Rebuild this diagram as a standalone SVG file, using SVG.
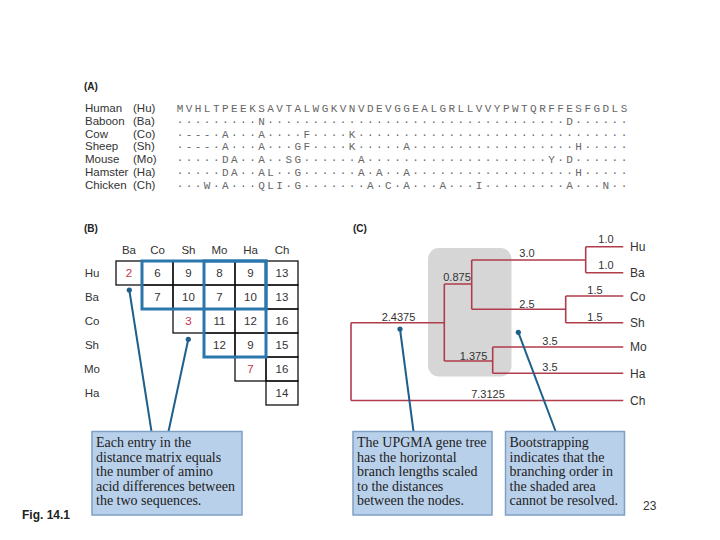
<svg xmlns="http://www.w3.org/2000/svg" width="720" height="540" viewBox="0 0 720 540">
<style>
.hd{font-family:"Liberation Sans",Arial,sans-serif;font-weight:bold;font-size:10px;fill:#222}
.nm{font-family:"Liberation Sans",Arial,sans-serif;font-size:11.5px;fill:#333}
.sq{font-family:"Liberation Mono","Courier New",monospace;font-size:11px;fill:#666;letter-spacing:2.46px}
.mx{font-family:"Liberation Sans",Arial,sans-serif;font-size:11.5px;fill:#333;text-anchor:middle}
.red{fill:#c4324e}
.cell{fill:none;stroke:#111;stroke-width:1.3}
.blue{fill:none;stroke:#2b77ad;stroke-width:3}
.br{fill:none;stroke:#b03c4c;stroke-width:1.6}
.bl{font-family:"Liberation Sans",Arial,sans-serif;font-size:11px;fill:#333;text-anchor:middle}
.lf{font-family:"Liberation Sans",Arial,sans-serif;font-size:12px;fill:#333}
.ptr{stroke:#1f5f8b;stroke-width:2;fill:none}
.dot{fill:#1f5f8b}
.box{fill:#b9d0ea;stroke:#7f9fc6;stroke-width:1.5}
.bt{font-family:"Liberation Serif","Times New Roman",serif;font-size:14px;fill:#222}
.pg{font-family:"Liberation Sans",Arial,sans-serif;font-size:12px;fill:#333}
</style>
<rect width="720" height="540" fill="#fff"/>

<g id="panelA">
<text class="hd" x="84" y="90">(A)</text>
<g class="nm">
<text x="85" y="112">Human</text><text x="133" y="112">(Hu)</text>
<text x="85" y="124.8">Baboon</text><text x="133" y="124.8">(Ba)</text>
<text x="85" y="137.6">Cow</text><text x="133" y="137.6">(Co)</text>
<text x="85" y="150.4">Sheep</text><text x="133" y="150.4">(Sh)</text>
<text x="85" y="163.2">Mouse</text><text x="133" y="163.2">(Mo)</text>
<text x="85" y="176">Hamster</text><text x="133" y="176">(Ha)</text>
<text x="85" y="188.8">Chicken</text><text x="133" y="188.8">(Ch)</text>
</g>
<g class="sq">
<text x="176.7" y="112">MVHLTPEEKSAVTALWGKVNVDEVGGEALGRLLVVYPWTQRFFESFGDLS</text>
<text x="176.7" y="124.8">·········N·································D······</text>
<text x="176.7" y="137.6">·---·A···A····F····K······························</text>
<text x="176.7" y="150.4">·---·A···A···GF····K·····A··················H·····</text>
<text x="176.7" y="163.2">·····DA··A··SG······A····················Y·D······</text>
<text x="176.7" y="176">·····DA··AL··G······A·A··A··················H·····</text>
<text x="176.7" y="188.8">···W·A···QLI·G·······A·C·A···A···I·········A···N··</text>
</g>
</g>

<g id="panelB">
<text class="hd" x="84" y="232">(B)</text>
<g class="mx">
<text x="129" y="254">Ba</text><text x="157.5" y="254">Co</text><text x="188.5" y="254">Sh</text><text x="219.5" y="254">Mo</text><text x="250.5" y="254">Ha</text><text x="282" y="254">Ch</text>
<text x="92" y="277">Hu</text><text x="92" y="301">Ba</text><text x="92" y="325">Co</text><text x="92" y="349">Sh</text><text x="92" y="373">Mo</text><text x="92" y="397">Ha</text>
</g>
<g id="cells">
<rect class="cell" x="116" y="261" width="26" height="24"/>
<rect class="cell" x="142" y="261" width="31" height="24"/>
<rect class="cell" x="173" y="261" width="31" height="24"/>
<rect class="cell" x="204" y="261" width="31" height="24"/>
<rect class="cell" x="235" y="261" width="31" height="24"/>
<rect class="cell" x="266" y="261" width="32" height="24"/>
<rect class="cell" x="142" y="285" width="31" height="24"/>
<rect class="cell" x="173" y="285" width="31" height="24"/>
<rect class="cell" x="204" y="285" width="31" height="24"/>
<rect class="cell" x="235" y="285" width="31" height="24"/>
<rect class="cell" x="266" y="285" width="32" height="24"/>
<rect class="cell" x="173" y="309" width="31" height="24"/>
<rect class="cell" x="204" y="309" width="31" height="24"/>
<rect class="cell" x="235" y="309" width="31" height="24"/>
<rect class="cell" x="266" y="309" width="32" height="24"/>
<rect class="cell" x="204" y="333" width="31" height="24"/>
<rect class="cell" x="235" y="333" width="31" height="24"/>
<rect class="cell" x="266" y="333" width="32" height="24"/>
<rect class="cell" x="235" y="357" width="31" height="24"/>
<rect class="cell" x="266" y="357" width="32" height="24"/>
<rect class="cell" x="266" y="381" width="32" height="24"/>
</g>
<rect class="blue" x="142" y="261" width="124" height="48"/>
<rect class="blue" x="204" y="261" width="62" height="96"/>
<g class="mx">
<text class="red" x="129" y="277">2</text><text x="157.5" y="277">6</text><text x="188.5" y="277">9</text><text x="219.5" y="277">8</text><text x="250.5" y="277">9</text><text x="282" y="277">13</text>
<text x="157.5" y="301">7</text><text x="188.5" y="301">10</text><text x="219.5" y="301">7</text><text x="250.5" y="301">10</text><text x="282" y="301">13</text>
<text class="red" x="188.5" y="325">3</text><text x="219.5" y="325">11</text><text x="250.5" y="325">12</text><text x="282" y="325">16</text>
<text x="219.5" y="349">12</text><text x="250.5" y="349">9</text><text x="282" y="349">15</text>
<text class="red" x="250.5" y="373">7</text><text x="282" y="373">16</text>
<text x="282" y="397">14</text>
</g>
</g>

<g id="panelC">
<text class="hd" x="353" y="232">(C)</text>
<rect id="shade" x="428" y="248" width="83.5" height="128.5" rx="11" fill="#d6d6d6"/>
<g id="tree" class="br">
<path d="M585.7 246.7H623.3M585.7 272.7H623.3M585.7 246.7V272.7"/>
<path d="M565.7 296H623.3M565.7 322.7H623.3M565.7 296V322.7"/>
<path d="M471.7 260H585.7M471.7 309.3H565.7M471.7 260V309.3"/>
<path d="M492.7 347H623.3M492.7 373.3H623.3M492.7 347V373.3"/>
<path d="M444.3 284H471.7M444.3 361H492.7M444.3 284V361"/>
<path d="M351 322.7H444.3M351 400.5H623.3M351 322.7V400.5"/>
</g>
<g class="bl">
<text x="606" y="243">1.0</text>
<text x="606" y="269">1.0</text>
<text x="595" y="294">1.5</text>
<text x="595" y="320.5">1.5</text>
<text x="527" y="256.5">3.0</text>
<text x="527" y="307.5">2.5</text>
<text x="457" y="281">0.875</text>
<text x="550" y="345">3.5</text>
<text x="550" y="370.5">3.5</text>
<text x="473.5" y="359.5">1.375</text>
<text x="398.5" y="320.5">2.4375</text>
<text x="488" y="397.5">7.3125</text>
</g>
<g class="lf">
<text x="630" y="251">Hu</text>
<text x="630" y="277">Ba</text>
<text x="630" y="300.5">Co</text>
<text x="630" y="327">Sh</text>
<text x="630" y="351">Mo</text>
<text x="630" y="377.5">Ha</text>
<text x="630" y="405">Ch</text>
</g>
</g>

<g id="connectors">
<path class="ptr" d="M129.3 290L151.5 431.5"/>
<path class="ptr" d="M188.3 339.3L168.5 431.5"/>
<path class="ptr" d="M400 329L413.5 431.5"/>
<path class="ptr" d="M518.3 332.3L555.7 431.5"/>
<circle class="dot" cx="129.3" cy="290" r="2.6"/>
<circle class="dot" cx="188.3" cy="339.3" r="2.6"/>
<circle class="dot" cx="400" cy="329" r="2.6"/>
<circle class="dot" cx="518.3" cy="332.3" r="2.6"/>
</g>

<g id="note1">
<rect class="box" x="92" y="431.5" width="150" height="83.5"/>
<text class="bt" x="96" y="447">Each entry in the</text>
<text class="bt" x="96" y="461.5">distance matrix equals</text>
<text class="bt" x="96" y="476">the number of amino</text>
<text class="bt" x="96" y="490.5">acid differences between</text>
<text class="bt" x="96" y="505">the two sequences.</text>
</g>
<g id="note2">
<rect class="box" x="353" y="431.5" width="139" height="83.5"/>
<text class="bt" x="357" y="447">The UPGMA gene tree</text>
<text class="bt" x="357" y="461.5">has the horizontal</text>
<text class="bt" x="357" y="476">branch lengths scaled</text>
<text class="bt" x="357" y="490.5">to the distances</text>
<text class="bt" x="357" y="505">between the nodes.</text>
</g>
<g id="note3">
<rect class="box" x="505.5" y="431.5" width="119" height="83.5"/>
<text class="bt" x="509.5" y="447">Bootstrapping</text>
<text class="bt" x="509.5" y="461.5">indicates that the</text>
<text class="bt" x="509.5" y="476">branching order in</text>
<text class="bt" x="509.5" y="490.5">the shaded area</text>
<text class="bt" x="509.5" y="505">cannot be resolved.</text>
</g>

<text class="pg" x="643" y="510">23</text>
<text x="22" y="519" font-family="Liberation Sans,Arial,sans-serif" font-weight="bold" font-size="12" fill="#222">Fig. 14.1</text>
</svg>
